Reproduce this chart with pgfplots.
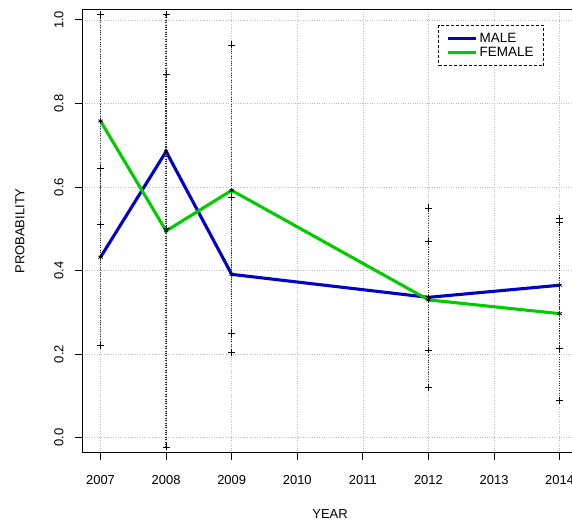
\documentclass[border=0pt]{standalone}
\usepackage{pgfplots}
\pgfplotsset{compat=1.18}
\usepackage{fontspec}
\setmainfont{Liberation Sans}
\definecolor{rblue}{RGB}{0,0,205}
\definecolor{rgreen}{RGB}{0,205,0}
\begin{document}
\begin{tikzpicture}
\clip (-82bp,-70bp) rectangle (489bp,452bp);
\begin{axis}[
  scale only axis, width=495bp, height=443bp,
  xmin=2006.72, xmax=2014.28, ymin=-0.036, ymax=1.026,
  xtick={2007,2008,2009,2010,2011,2012,2013,2014},
  ytick={0,0.2,0.4,0.6,0.8,1.0},
  x tick label style={/pgf/number format/1000 sep={}},
  y tick label style={/pgf/number format/fixed, /pgf/number format/fixed zerofill, /pgf/number format/precision=1},
  /pgf/number format/assume math mode=true,
  yticklabel style={rotate=90, anchor=south, yshift=8bp},
  xticklabel style={yshift=-12bp},
  tick align=outside, tick pos=left,
  major tick length=7bp,
  tick style={black, line width=0.8pt},
  axis line style={black, line width=1pt},
  grid=major,
  grid style={lightgray, dotted, line width=0.7pt},
  font=\fontsize{13}{15}\selectfont,
  xlabel={YEAR}, ylabel={PROBABILITY},
  xlabel style={at={(axis description cs:0.5,0)}, anchor=north, yshift=-53bp},
  ylabel style={at={(axis description cs:0,0.5)}, anchor=south, yshift=54bp},
  legend style={at={(0.931,0.964)}, anchor=north east, draw=black, densely dashed, line width=0.6pt,
    font=\fontsize{13.5}{15}\selectfont, row sep=-1pt, inner xsep=8pt, inner ysep=6pt},
  legend cell align=left,
  legend image code/.code={\draw[#1, solid, line width=2.8pt] (0bp,0bp) -- (28bp,0bp);},
]
\addplot[rblue, line width=3.1pt] coordinates {(2007,0.432) (2008,0.685) (2009,0.391) (2012,0.336) (2014,0.365)};
\addlegendentry{MALE}
\addplot[rgreen, line width=3.1pt] coordinates {(2007,0.758) (2008,0.495) (2009,0.592) (2012,0.330) (2014,0.297)};
\addlegendentry{FEMALE}
\addplot[forget plot, draw=none, mark=asterisk, mark size=2.5pt, mark options={black, solid, line width=0.7pt},
  error bars/.cd, y dir=both, y explicit,
  error bar style={black!80, dotted, line width=1.6pt},
  error mark=+, error mark options={black, solid, line width=0.7pt, mark size=3.5pt}]
 coordinates {
 (2007,0.432) += (0,0.213) -= (0,0.212)
 (2008,0.685) += (0,0.185) -= (0,0.185)
 (2009,0.391) += (0,0.185) -= (0,0.187)
 (2012,0.336) += (0,0.214) -= (0,0.216)
 (2014,0.365) += (0,0.160) -= (0,0.152)
 };
\addplot[forget plot, draw=none, mark=asterisk, mark size=2.5pt, mark options={black, solid, line width=0.7pt},
  error bars/.cd, y dir=both, y explicit,
  error bar style={black!80, dotted, line width=1.6pt},
  error mark=+, error mark options={black, solid, line width=0.7pt, mark size=3.5pt}]
 coordinates {
 (2007,0.758) += (0,0.256) -= (0,0.248)
 (2008,0.495) += (0,0.519) -= (0,0.517)
 (2009,0.592) += (0,0.348) -= (0,0.343)
 (2012,0.330) += (0,0.140) -= (0,0.120)
 (2014,0.297) += (0,0.219) -= (0,0.208)
 };
\end{axis}
\end{tikzpicture}
\end{document}
